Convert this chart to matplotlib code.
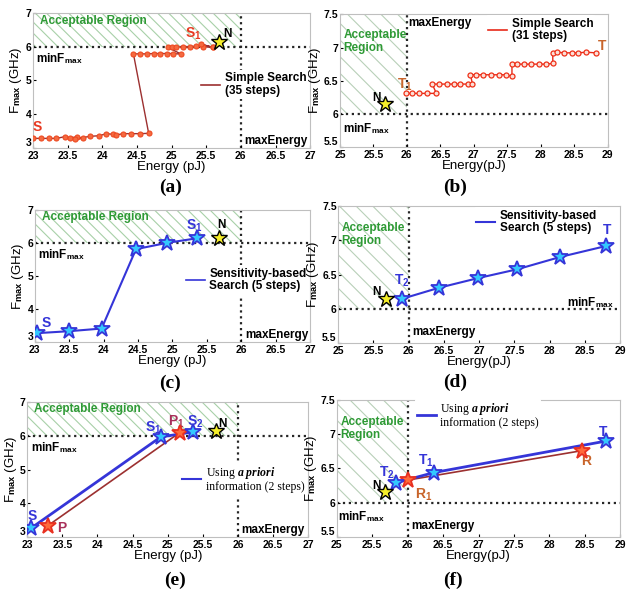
import matplotlib
matplotlib.use('Agg')
import matplotlib.pyplot as plt
from matplotlib.lines import Line2D

plt.rcParams['font.family'] = ['Liberation Sans', 'DejaVu Sans']
plt.rcParams['font.weight'] = 'bold'
plt.rcParams['mathtext.fontset'] = 'custom'
plt.rcParams['mathtext.rm'] = 'Liberation Sans'
plt.rcParams['mathtext.bf'] = 'Liberation Sans:bold'
plt.rcParams['mathtext.it'] = 'Liberation Serif:italic'
plt.rcParams['hatch.color'] = '#9fc79f'
plt.rcParams['hatch.linewidth'] = 0.8

# ---- data ----
N_point = (25.68, 6.15)

# (a) simple search, left corner
a_x = [23.0, 23.12, 23.23, 23.34, 23.46, 23.53, 23.63, 23.72, 23.6, 23.82, 23.96,
       24.06, 24.16, 24.2, 24.3, 24.42, 24.54, 24.67, 24.45, 24.54, 24.64, 24.74,
       24.83, 24.93, 25.02, 25.14, 24.95, 25.0, 25.07, 25.17, 25.27, 25.36, 25.46,
       25.6, 25.42, 25.6]
a_y = [3.28, 3.28, 3.28, 3.28, 3.33, 3.3, 3.32, 3.28, 3.26, 3.34, 3.36, 3.42, 3.4,
       3.38, 3.42, 3.42, 3.42, 3.43, 5.79, 5.79, 5.79, 5.8, 5.8, 5.8, 5.8, 5.78,
       5.98, 5.98, 5.99, 6.0, 6.0, 6.02, 6.0, 5.98, 6.08, 5.98]

# (b) simple search, right corner
b_x = [25.98, 26.08, 26.18, 26.3, 26.44, 26.38, 26.48, 26.6, 26.7, 26.8, 26.92,
       26.98, 26.95, 27.03, 27.13, 27.25, 27.37, 27.48, 27.57, 27.57, 27.65, 27.75,
       27.86, 27.97, 28.08, 28.18, 28.18, 28.25, 28.35, 28.46, 28.56, 28.68, 28.82]
b_y = [6.31, 6.31, 6.31, 6.31, 6.31, 6.45, 6.45, 6.45, 6.45, 6.45, 6.45, 6.45,
       6.59, 6.59, 6.59, 6.59, 6.59, 6.59, 6.57, 6.75, 6.75, 6.75, 6.75, 6.75, 6.75,
       6.76, 6.92, 6.93, 6.92, 6.92, 6.92, 6.93, 6.92]

# (c) sensitivity-based search, left corner
c_x = [23.03, 23.5, 23.97, 24.47, 24.92, 25.36]
c_y = [3.27, 3.33, 3.41, 5.81, 6.0, 6.14]

# (d) sensitivity-based search, right corner
d_x = [25.91, 26.43, 26.98, 27.54, 28.15, 28.8]
d_y = [6.15, 6.31, 6.45, 6.58, 6.76, 6.92]

# (e) a priori information, left corner
e_blue_x = [23.06, 24.9, 25.36]
e_blue_y = [3.27, 5.97, 6.12]
e_red_x = [23.29, 25.17]
e_red_y = [3.33, 6.1]

# (f) a priori information, right corner
f_blue_x = [25.83, 26.37, 28.8]
f_blue_y = [6.29, 6.44, 6.9]
f_red_x = [26.0, 28.46]
f_red_y = [6.33, 6.76]

left_xticks = [23, 23.5, 24, 24.5, 25, 25.5, 26, 26.5, 27]
right_xticks = [25, 25.5, 26, 26.5, 27, 27.5, 28, 28.5, 29]
left_yticks = [3, 4, 5, 6, 7]
right_yticks = [5.5, 6, 6.5, 7, 7.5]

BLUE = '#3535d8'
CYAN = '#33c8ff'
GREEN = '#2e9a35'
DARKRED = '#9c3030'
ORANGE = '#ff6a3a'
REDLBL = '#e83a22'
TLBL = '#c8642a'
PLBL = '#a8305a'

fig = plt.figure(figsize=(6.33, 5.96), dpi=100)


def setup(ax, left_corner):
    if left_corner:
        xt, yt = left_xticks, left_yticks
        ax.fill_between([23, 26], 6, 7, facecolor='white', hatch='\\\\\\', edgecolor='#a8d0a8', lw=0)
        ax.set_xlabel('Energy (pJ)', fontsize=9.5, labelpad=0)
    else:
        xt, yt = right_xticks, right_yticks
        ax.fill_between([25, 26], 6, 7.5, facecolor='white', hatch='\\\\', edgecolor='#b8d0b8', lw=0)
        ax.set_xlabel('Energy(pJ)', fontsize=9.5, labelpad=0)
    ax.set_xlim(xt[0], xt[-1])
    ax.set_ylim(yt[0], yt[-1])
    ax.set_xticks(xt)
    ax.set_xticklabels(['%g' % v for v in xt])
    ax.set_yticks(yt)
    ax.set_yticklabels(['%g' % v for v in yt])
    ax.get_yticklabels()[0].set_va('bottom')
    ax.set_ylabel(r'F$_{\mathbf{max}}$ (GHz)', fontsize=9.5, labelpad=1)
    ax.axhline(6, color='0.15', ls=':', lw=1.6, zorder=1)
    ax.axvline(26, color='0.15', ls=':', lw=1.6, zorder=1)
    ax.tick_params(labelsize=7.5, direction='in', length=2, pad=1)
    ax.tick_params(axis='x', pad=2)
    for s in ax.spines.values():
        s.set_color('0.75')
    ax.plot(*N_point, marker='*', ms=12, mfc='#f5ee2a', mec='black', mew=1, ls='none', zorder=6)


def star(ax, x, y, face, edge):
    ax.plot(x, y, ls='none', marker='*', ms=12, mfc=face, mec=edge, mew=1.3, zorder=5)


def legend(ax, color, text, loc, anchor, serif=False, lw=1.5):
    h = [Line2D([0], [0], color=color, lw=lw)]
    prop = {'size': 8.5, 'weight': 'bold'}
    if serif:
        prop = {'size': 8.5, 'family': 'Liberation Serif', 'weight': 'normal'}
    leg = ax.legend(h, [text], loc=loc, bbox_to_anchor=anchor, prop=prop, frameon=True,
                    handlelength=1.6, handletextpad=0.4, borderpad=0.2, borderaxespad=0.1)
    leg.get_texts()[0].set_linespacing(1.05)
    leg.get_frame().set_edgecolor('none')
    leg.get_frame().set_alpha(1)
    leg.set_zorder(3)


# (a)
ax = fig.add_axes([0.052, 0.752, 0.438, 0.226])
setup(ax, True)
ax.plot(a_x, a_y, color=DARKRED, lw=1, marker='o', ms=3.6, mfc='#f46a40', mec='#ee4a22', mew=0.8, zorder=4)
ax.text(23.1, 6.68, 'Acceptable Region', color=GREEN, fontsize=8.5)
ax.text(23.05, 5.55, r'minF$_{\mathbf{max}}$', fontsize=8.5)
ax.text(26.05, 3.12, 'maxEnergy', fontsize=8.5)
ax.text(23.0, 3.5, 'S', color=REDLBL, fontsize=10)
ax.text(25.2, 6.27, r'S$_{\mathbf{1}}$', color=REDLBL, fontsize=10)
ax.text(25.75, 6.3, 'N', fontsize=8.5)
legend(ax, DARKRED, 'Simple Search\n(35 steps)', 'center right', (1.0, 0.47), lw=1.2)
fig.text(0.269, 0.686, '(a)', fontsize=14, family='Liberation Serif', ha='center', va='center')

# (b)
ax = fig.add_axes([0.537, 0.753, 0.423, 0.223])
setup(ax, False)
ax.plot(b_x, b_y, color='#e82a1a', lw=1, marker='o', ms=3.6, mfc='#fbe0d8', mec='#ee3018', mew=0.9, zorder=4)
ax.text(25.05, 6.95, 'Acceptable\nRegion', color=GREEN, fontsize=8.5, linespacing=1.1)
ax.text(25.05, 5.72, r'minF$_{\mathbf{max}}$', fontsize=8.5)
ax.text(26.02, 7.32, 'maxEnergy', fontsize=8.5)
ax.text(25.85, 6.37, r'T$_{\mathbf{1}}$', color=TLBL, fontsize=10)
ax.text(28.86, 6.97, 'T', color=TLBL, fontsize=10, zorder=7)
ax.text(25.48, 6.2, 'N', fontsize=8.5)
legend(ax, '#e82a1a', 'Simple Search\n(31 steps)', 'upper right', (0.96, 1.0), lw=1.2)
fig.text(0.719, 0.686, '(b)', fontsize=14, family='Liberation Serif', ha='center', va='center')

# (c)
ax = fig.add_axes([0.055, 0.426, 0.435, 0.222])
setup(ax, True)
ax.plot(c_x, c_y, color=BLUE, lw=1.5, zorder=4)
star(ax, c_x, c_y, CYAN, BLUE)
ax.text(23.1, 6.68, 'Acceptable Region', color=GREEN, fontsize=8.5)
ax.text(23.05, 5.55, r'minF$_{\mathbf{max}}$', fontsize=8.5)
ax.text(26.05, 3.12, 'maxEnergy', fontsize=8.5)
ax.text(23.1, 3.45, 'S', color=BLUE, fontsize=10)
ax.text(25.2, 6.4, r'S$_{\mathbf{1}}$', color=BLUE, fontsize=10)
ax.text(25.65, 6.45, 'N', fontsize=8.5)
legend(ax, BLUE, 'Sensitivity-based\nSearch (5 steps)', 'center right', (1.0, 0.47), lw=1.2)
fig.text(0.269, 0.357, '(c)', fontsize=14, family='Liberation Serif', ha='center', va='center')

# (d)
ax = fig.add_axes([0.534, 0.424, 0.446, 0.230])
setup(ax, False)
ax.plot(d_x, d_y, color=BLUE, lw=1.5, zorder=4)
star(ax, d_x, d_y, CYAN, BLUE)
ax.text(25.05, 6.95, 'Acceptable\nRegion', color=GREEN, fontsize=8.5, linespacing=1.1)
ax.text(28.25, 6.04, r'minF$_{\mathbf{max}}$', fontsize=8.5)
ax.text(26.05, 5.62, 'maxEnergy', fontsize=8.5)
ax.text(25.8, 6.35, r'T$_{\mathbf{2}}$', color=BLUE, fontsize=10)
ax.text(28.75, 7.1, 'T', color=BLUE, fontsize=10)
ax.text(25.48, 6.2, 'N', fontsize=8.5)
legend(ax, BLUE, 'Sensitivity-based\nSearch (5 steps)', 'upper right', (0.93, 1.0), lw=1.5)
fig.text(0.719, 0.359, '(d)', fontsize=14, family='Liberation Serif', ha='center', va='center')

# (e)
ax = fig.add_axes([0.043, 0.099, 0.444, 0.226])
setup(ax, True)
ax.plot(e_red_x, e_red_y, color=DARKRED, lw=1.2, zorder=4)
ax.plot(e_blue_x, e_blue_y, color=BLUE, lw=2, zorder=4)
star(ax, e_red_x, e_red_y, ORANGE, '#e83020')
star(ax, e_blue_x, e_blue_y, CYAN, BLUE)
ax.text(23.1, 6.7, 'Acceptable Region', color=GREEN, fontsize=8.5)
ax.text(23.05, 5.55, r'minF$_{\mathbf{max}}$', fontsize=8.5)
ax.text(26.05, 3.12, 'maxEnergy', fontsize=8.5)
ax.text(23.0, 3.5, 'S', color=BLUE, fontsize=10)
ax.text(23.42, 3.15, 'P', color=PLBL, fontsize=10)
ax.text(24.68, 6.12, r'S$_{\mathbf{1}}$', color=BLUE, fontsize=10)
ax.text(25.0, 6.3, r'P$_{\mathbf{1}}$', color=PLBL, fontsize=10)
ax.text(25.28, 6.3, r'S$_{\mathbf{2}}$', color=BLUE, fontsize=10)
ax.text(25.72, 6.28, 'N', fontsize=8.5)
legend(ax, BLUE, 'Using $a\\ priori$\ninformation (2 steps)', 'center right', (1.0, 0.43), serif=True, lw=1.5)
fig.text(0.276, 0.027, '(e)', fontsize=14, family='Liberation Serif', ha='center', va='center')

# (f)
ax = fig.add_axes([0.532, 0.099, 0.448, 0.230])
setup(ax, False)
ax.plot(f_red_x, f_red_y, color=DARKRED, lw=1.2, zorder=4)
ax.plot(f_blue_x, f_blue_y, color=BLUE, lw=2, zorder=4)
star(ax, f_red_x, f_red_y, ORANGE, '#e83020')
star(ax, f_blue_x, f_blue_y, CYAN, BLUE)
ax.text(25.05, 6.95, 'Acceptable\nRegion', color=GREEN, fontsize=8.5, linespacing=1.1)
ax.text(25.02, 5.75, r'minF$_{\mathbf{max}}$', fontsize=8.5)
ax.text(26.05, 5.62, 'maxEnergy', fontsize=8.5)
ax.text(25.6, 6.38, r'T$_{\mathbf{2}}$', color=BLUE, fontsize=10)
ax.text(26.15, 6.55, r'T$_{\mathbf{1}}$', color=BLUE, fontsize=10)
ax.text(28.7, 6.98, 'T', color=BLUE, fontsize=10)
ax.text(26.1, 6.05, r'R$_{\mathbf{1}}$', color=TLBL, fontsize=10)
ax.text(28.45, 6.55, 'R', color=TLBL, fontsize=10)
ax.text(25.5, 6.2, 'N', fontsize=8.5)
legend(ax, BLUE, 'Using $a\\ priori$\ninformation (2 steps)', 'upper left', (0.27, 1.02), serif=True, lw=2)
fig.text(0.716, 0.027, '(f)', fontsize=14, family='Liberation Serif', ha='center', va='center')

fig.savefig('out.png', dpi=100)
